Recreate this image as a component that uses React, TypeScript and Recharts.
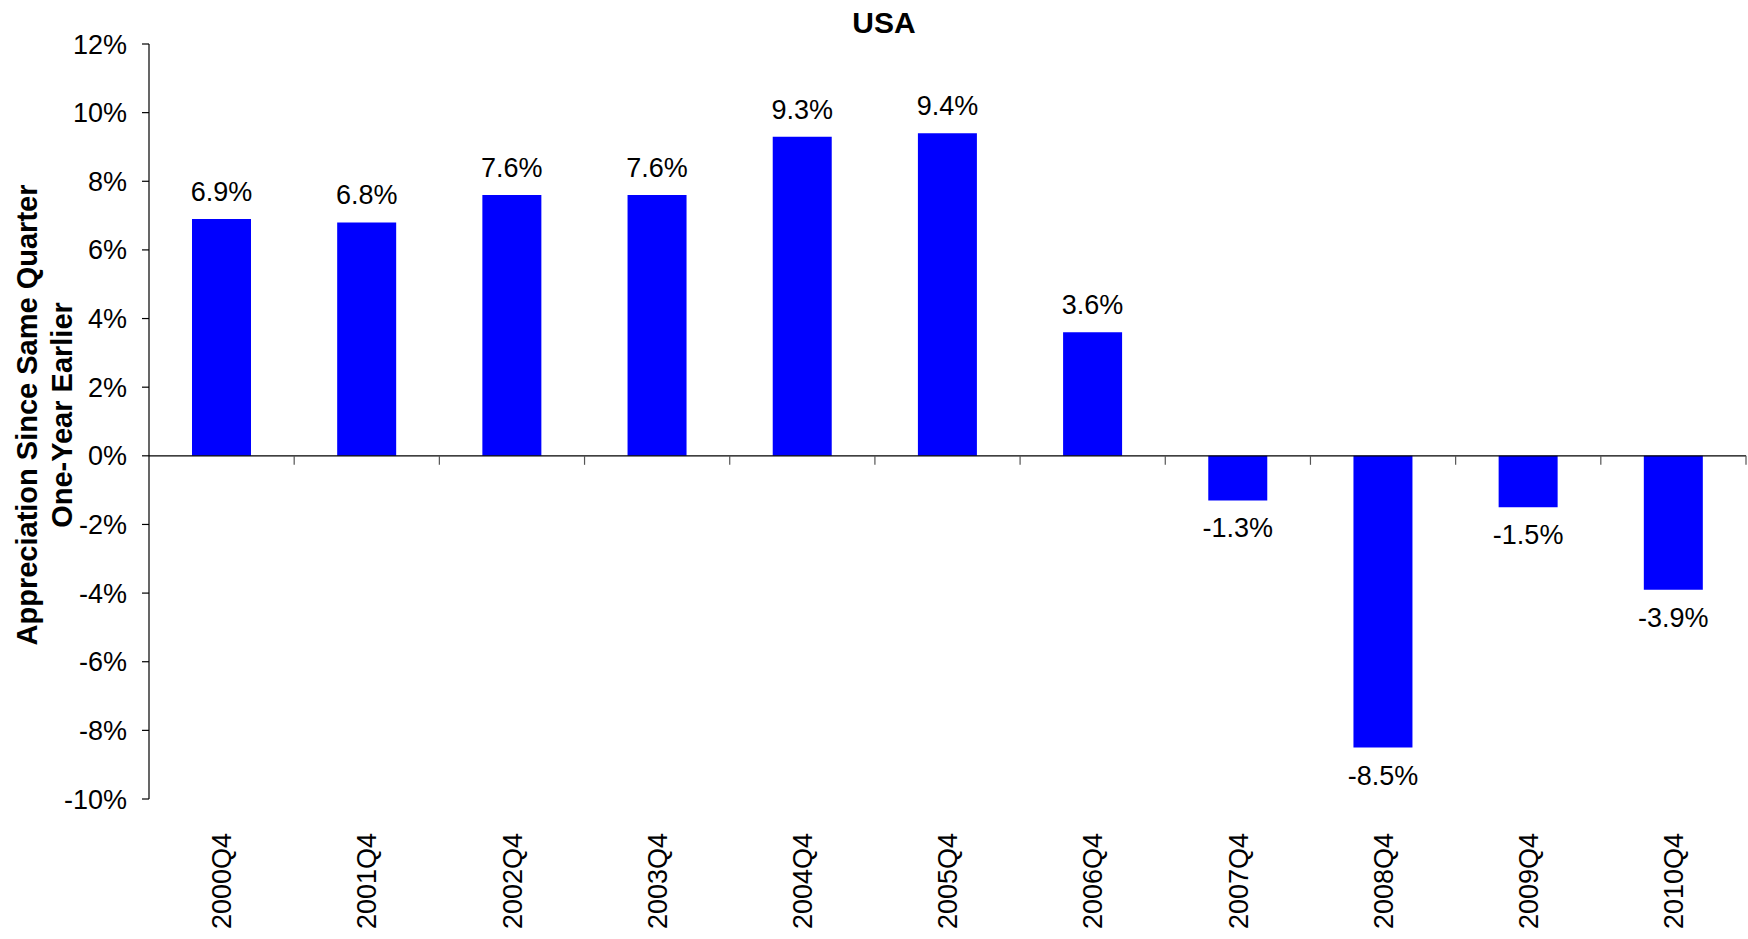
import { BarChart, Bar, XAxis, YAxis, ReferenceLine, LabelList } from 'recharts';

const quarters = ['2000Q4', '2001Q4', '2002Q4', '2003Q4', '2004Q4', '2005Q4', '2006Q4', '2007Q4', '2008Q4', '2009Q4', '2010Q4'];
const appreciation = [6.9, 6.8, 7.6, 7.6, 9.3, 9.4, 3.6, -1.3, -8.5, -1.5, -3.9];
const yTicks = [-10, -8, -6, -4, -2, 0, 2, 4, 6, 8, 10, 12];

const data = quarters.map((q, i) => ({ q, v: appreciation[i] }));

const FONT = '"Liberation Sans", Arial, sans-serif';

// rotated category labels under the plot
const QuarterTick = (props: any) => {
  const { x, y, payload } = props;
  const ty = y + 26;
  return (
    <text
      x={x}
      y={ty}
      dy="0.36em"
      transform={`rotate(-90, ${x}, ${ty})`}
      textAnchor="end"
      fontSize={27}
      fontFamily={FONT}
      fill="#000"
    >
      {payload.value}
    </text>
  );
};

const ValueLabel = (props: any) => {
  const { x, y, width, height, value } = props;
  const top = Math.min(y, y + height);
  const bottom = Math.max(y, y + height);
  const ty = value >= 0 ? top - 18 : bottom + 37;
  return (
    <text x={x + width / 2} y={ty} textAnchor="middle" fontSize={27} fontFamily={FONT} fill="#000">
      {`${value.toFixed(1)}%`}
    </text>
  );
};

// zero line with tick marks at category boundaries
const ZeroLine = (props: any) => {
  const { x1, y1, x2 } = props;
  const step = (x2 - x1) / quarters.length;
  return (
    <g>
      <line x1={x1} y1={y1} x2={x2} y2={y1} stroke="#000" strokeWidth={1.2} />
      {quarters.map((_, i) => (
        <line key={i} x1={x1 + step * (i + 1)} y1={y1} x2={x1 + step * (i + 1)} y2={y1 + 9} stroke="#555" strokeWidth={1.2} />
      ))}
    </g>
  );
};

const YLabel = (props: any) => {
  const { viewBox } = props;
  const cy = 415;
  const x0 = viewBox ? viewBox.x : 0;
  return (
    <g fontFamily={FONT} fontSize={29} fontWeight="bold" fill="#000">
      <text x={x0 + 37} y={cy} textAnchor="middle" transform={`rotate(-90, ${x0 + 37}, ${cy})`}>
        Appreciation Since Same Quarter
      </text>
      <text x={x0 + 72} y={cy} textAnchor="middle" transform={`rotate(-90, ${x0 + 72}, ${cy})`}>
        One-Year Earlier
      </text>
    </g>
  );
};

export default function App() {
  return (
    <div style={{ position: 'absolute', left: 0, top: 0, width: 1748, height: 939, background: '#fff' }}>
      <div
        style={{
          position: 'absolute',
          left: 884,
          top: 8,
          transform: 'translateX(-50%)',
          fontFamily: FONT,
          fontWeight: 'bold',
          fontSize: 30,
          lineHeight: '30px',
          color: '#000',
        }}
      >
        USA
      </div>
      <BarChart width={1748} height={939} data={data} margin={{ top: 44, right: 2, left: 0, bottom: 0 }}>
        <XAxis dataKey="q" axisLine={false} tickLine={false} height={140} tick={<QuarterTick />} interval={0} />
        <YAxis
          width={149}
          domain={[-10, 12]}
          ticks={yTicks}
          interval={0}
          tickFormatter={(v) => `${v}%`}
          tick={{ fontSize: 27, fontFamily: FONT, fill: '#000' }}
          tickSize={7}
          tickMargin={15}
          axisLine={{ stroke: '#000', strokeWidth: 1.2 }}
          tickLine={{ stroke: '#000', strokeWidth: 1.2 }}
          label={{ content: <YLabel /> } as any}
        />
        <Bar dataKey="v" fill="#0000FF" barSize={59} isAnimationActive={false}>
          <LabelList dataKey="v" content={<ValueLabel />} />
        </Bar>
        <ReferenceLine y={0} shape={<ZeroLine />} />
      </BarChart>
    </div>
  );
}
